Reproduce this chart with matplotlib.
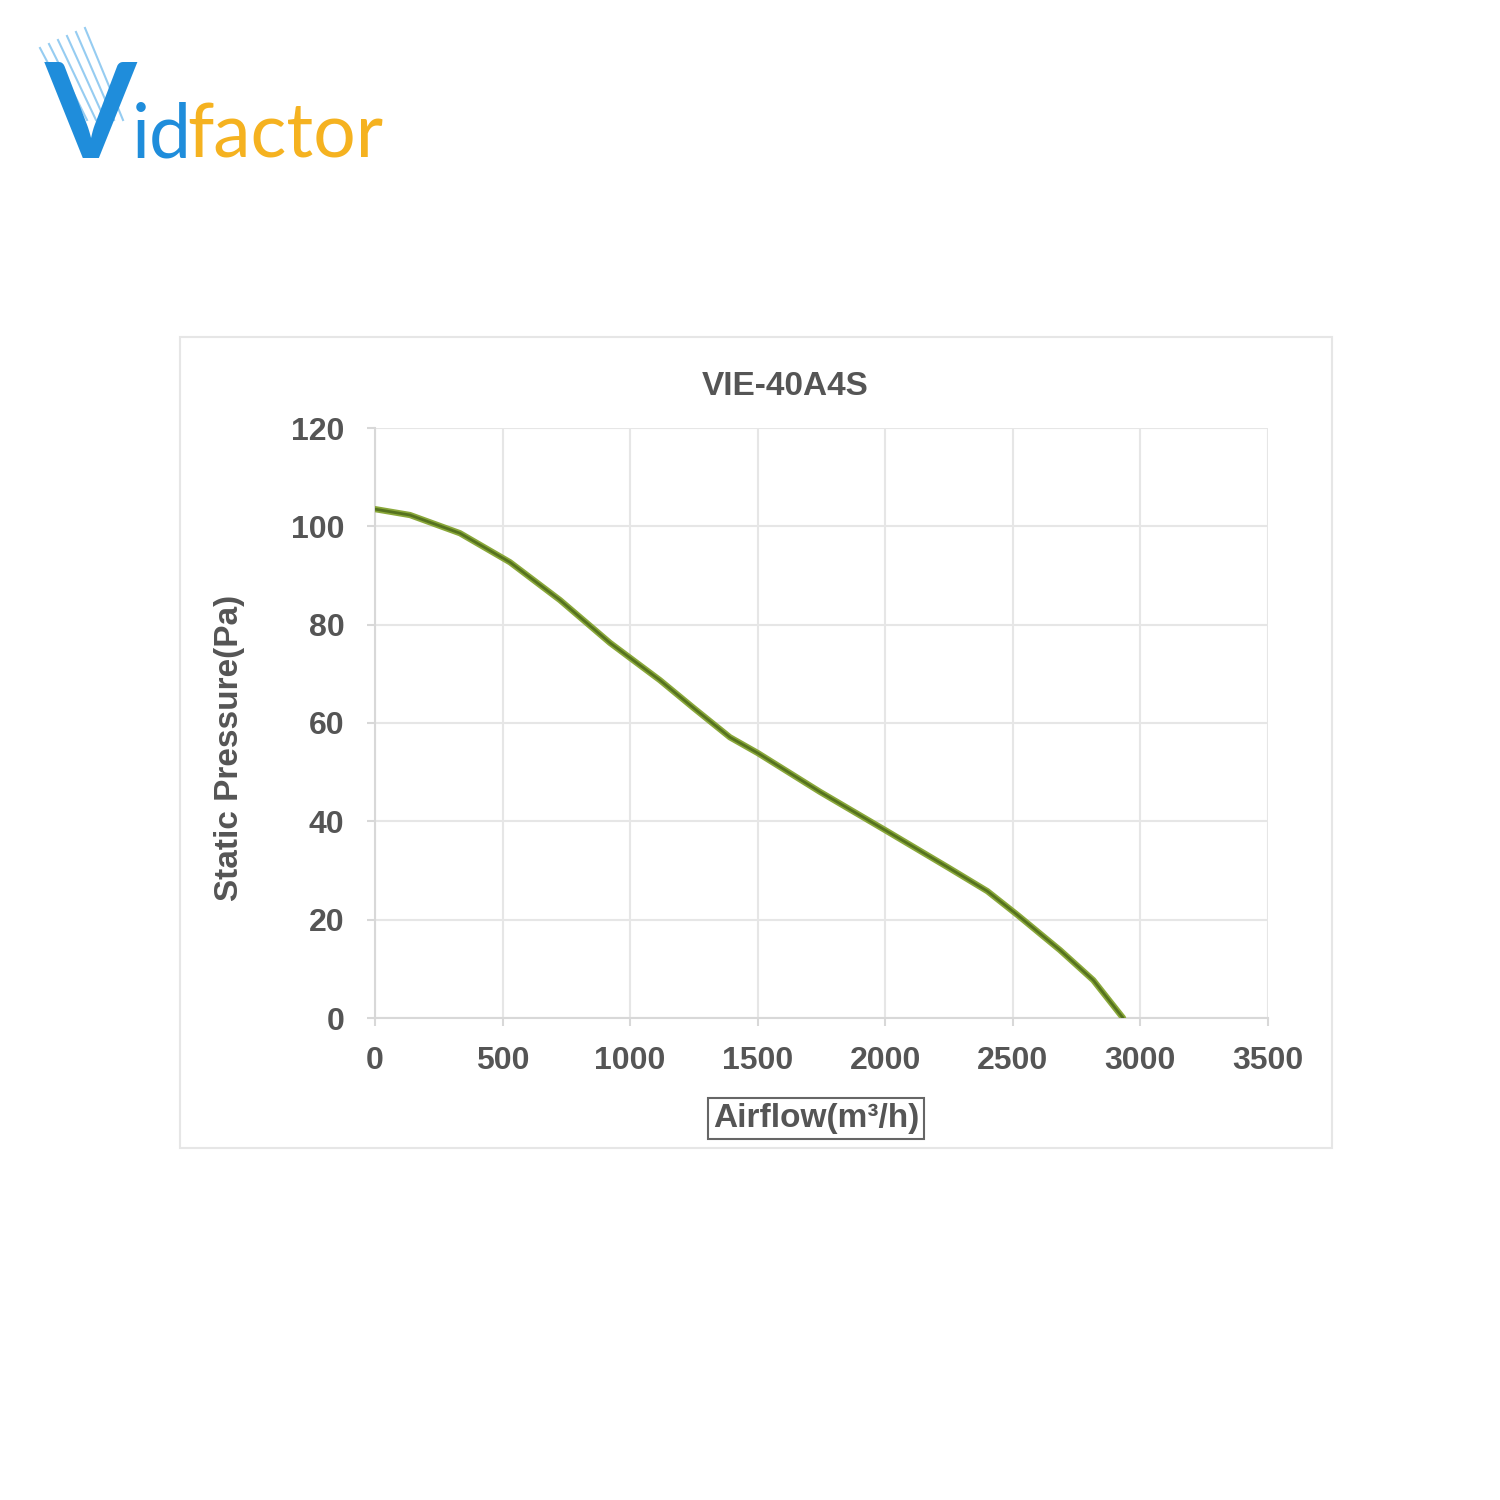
import matplotlib
matplotlib.use("Agg")
import matplotlib.pyplot as plt
from matplotlib.patches import Rectangle
from matplotlib.lines import Line2D

airflow = [0, 137, 333, 529, 725, 921, 1117, 1250, 1391, 1500, 1744, 2000, 2250, 2400, 2517, 2685, 2815, 2932]
pressure = [103.5, 102.3, 98.6, 92.7, 85.0, 76.3, 68.7, 63.0, 57.1, 53.9, 46.0, 38.2, 30.5, 25.8, 21.0, 13.8, 7.7, 0.0]
xticks = [0, 500, 1000, 1500, 2000, 2500, 3000, 3500]
yticks = [0, 20, 40, 60, 80, 100, 120]
title = "VIE-40A4S"
xlabel = "Airflow(m³/h)"
ylabel = "Static Pressure(Pa)"

plt.rcParams['font.family'] = ['Liberation Sans', 'DejaVu Sans']
fig = plt.figure(figsize=(15, 15), dpi=100)
W = H = 1500.0

# outer chart frame
fig.patches.append(Rectangle((180 / W, 1 - 1148 / H), (1332 - 180) / W, (1148 - 337) / H,
                             transform=fig.transFigure, fill=False, edgecolor='#e6e6e6', lw=1.5))

ax = fig.add_axes([375 / W, 1 - 1018 / H, (1268 - 375) / W, (1018 - 428) / H])
ax.plot(airflow, pressure, color='#8aa83a', lw=4.5, solid_capstyle='round', solid_joinstyle='round', zorder=3)
ax.plot(airflow, pressure, color='#55721f', lw=2.0, solid_capstyle='round', solid_joinstyle='round', zorder=4)
ax.set_xlim(0, 3500)
ax.set_ylim(0, 120)
ax.set_xticks(xticks)
ax.set_yticks(yticks)
ax.grid(True, color='#e6e6e6', lw=1.5)
ax.set_axisbelow(True)
for s in ['top', 'right']:
    ax.spines[s].set_visible(False)
for s in ['left', 'bottom']:
    ax.spines[s].set_color('#d8d8d8')
    ax.spines[s].set_linewidth(1.5)
ax.tick_params(axis='both', colors='#d8d8d8', length=6, width=1.5, labelcolor='#555555', labelsize=23)
ax.tick_params(axis='y', pad=16)
ax.tick_params(axis='x', pad=14)
for lab in ax.get_xticklabels() + ax.get_yticklabels():
    lab.set_fontweight('bold')

fig.text(785 / W, 1 - 386 / H, title, ha='center', va='center', fontsize=24, fontweight='bold', color='#555555')
fig.text(230 / W, 1 - 748 / H, ylabel, ha='center', va='center', rotation=90, fontsize=24, fontweight='bold', color='#555555')
fig.text(816 / W, 1 - 1118 / H, xlabel, ha='center', va='center', fontsize=24, fontweight='bold', color='#555555',
         bbox=dict(boxstyle='square,pad=0.15', fc='white', ec='#666666', lw=1.5))

# logo
for i in range(6):
    x0 = 40 + i * 9
    fig.add_artist(Line2D([x0 / W, (x0 + 38) / W], [1 - (48 - i * 4) / H, 1 - 120 / H],
                          transform=fig.transFigure, color='#7cc0ee', lw=1.5, alpha=0.8))
fig.text(45 / W, 1 - 158 / H, "V", ha='left', va='baseline', fontsize=95, fontweight='bold', color='#1f8ddb', family='Lato')
fig.text(132 / W, 1 - 157 / H, "id", ha='left', va='baseline', fontsize=54, color='#1f8ddb', family='Lato')
fig.text(187 / W, 1 - 157 / H, "factor", ha='left', va='baseline', fontsize=54, color='#f5b220', family='Lato')

fig.savefig("out.png", dpi=100, facecolor='white')
